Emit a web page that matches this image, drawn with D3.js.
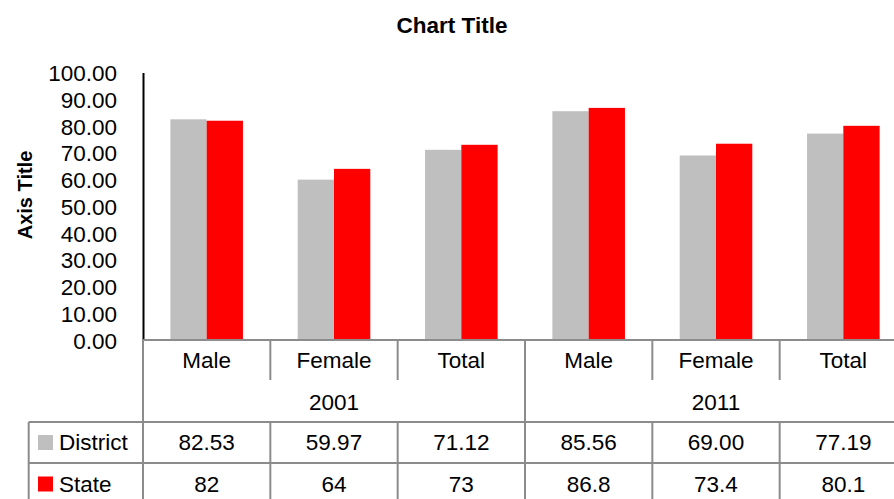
<!DOCTYPE html>
<html lang="en">
<head>
  <meta charset="UTF-8" />
  <title>Chart Title</title>
  <script src="https://d3js.org/d3.v7.min.js"></script>
  <style>
    body {
      margin: 0;
      background: #fff;
    }
    svg text {
      fill: #000;
      font-family: "Liberation Sans", Arial, sans-serif;
    }
  </style>
</head>
<body>
  <div id="chart"></div>

  <script>
    // data
    const categories = ["Male", "Female", "Total", "Male", "Female", "Total"];
    const years = ["2001", "2011"];
    const seriesNames = ["District", "State"];
    const district = [82.53, 59.97, 71.12, 85.56, 69.00, 77.19];
    const state = [82, 64, 73, 86.8, 73.4, 80.1];
    const yTicks = [0, 10, 20, 30, 40, 50, 60, 70, 80, 90, 100];

    const colors = ["#bfbfbf", "#ff0000"];
    const gridColor = "#8c8c8c";
    const W = 894, H = 499;
    const fontSize = 22.5;

    const plotLeft = 143, plotRight = 907,
          plotTop = 72.6, plotBottom = 340;
    const rowCat = 380, rowYear = 422, rowDistrict = 463, rowState = 504;
    const tableLeft = 28.7;

    const svg = d3.select("#chart")
      .append("svg")
      .attr("width", W)
      .attr("height", H);

    const keys = categories.map((c, i) => i);

    const x = d3.scaleBand()
      .domain(keys)
      .range([plotLeft, plotRight])
      .paddingInner(0.43)
      .paddingOuter(0.215);

    const xs = d3.scaleBand()
      .domain([0, 1])
      .range([0, x.bandwidth()]);

    const y = d3.scaleLinear()
      .domain([0, 100])
      .range([plotBottom, plotTop]);

    // bars
    const series = [district, state];
    series.forEach((vals, s) => {
      svg.append("g")
        .selectAll("rect")
        .data(vals)
        .join("rect")
        .attr("x", (d, i) => x(i) + xs(s))
        .attr("y", d => y(d))
        .attr("width", xs.bandwidth())
        .attr("height", d => y(0) - y(d))
        .attr("fill", colors[s]);
    });

    // y axis
    const yAxis = svg.append("g")
      .attr("transform", `translate(${plotLeft},0)`)
      .call(d3.axisLeft(y).tickValues(yTicks).tickFormat(d3.format(".2f")).tickSize(0).tickPadding(26));
    yAxis.select(".domain").attr("stroke", "#000").attr("stroke-width", 2);
    yAxis.selectAll("text")
      .attr("font-family", null)
      .attr("font-size", fontSize)
      .attr("dy", "0.36em");

    // data table
    const step = x.step();
    const colX = i => plotLeft + i * step;
    const grid = svg.append("g")
      .attr("stroke", gridColor)
      .attr("stroke-width", 2)
      .attr("fill", "none");

    // horizontal lines
    grid.append("line")
      .attr("x1", plotLeft).attr("x2", plotRight)
      .attr("y1", plotBottom).attr("y2", plotBottom);
    [rowYear, rowDistrict].forEach(yy => {
      grid.append("line")
        .attr("x1", tableLeft).attr("x2", plotRight)
        .attr("y1", yy).attr("y2", yy);
    });

    // vertical lines
    grid.append("line")
      .attr("x1", plotLeft).attr("x2", plotLeft)
      .attr("y1", plotBottom).attr("y2", rowState);
    grid.append("line")
      .attr("x1", tableLeft).attr("x2", tableLeft)
      .attr("y1", rowYear).attr("y2", rowState);
    keys.slice(1).forEach(i => {
      const yearEdge = i % 3 === 0;
      grid.append("line")
        .attr("x1", colX(i)).attr("x2", colX(i))
        .attr("y1", plotBottom)
        .attr("y2", yearEdge ? rowState : rowCat);
      if (!yearEdge) {
        grid.append("line")
          .attr("x1", colX(i)).attr("x2", colX(i))
          .attr("y1", rowYear).attr("y2", rowState);
      }
    });

    const textStyle = sel => sel
      .attr("font-size", fontSize)
      .attr("text-anchor", "middle");

    // category labels
    svg.append("g").selectAll("text")
      .data(categories)
      .join("text")
      .call(textStyle)
      .attr("x", (d, i) => colX(i) + step / 2)
      .attr("y", 368)
      .text(d => d);

    // year labels
    svg.append("g").selectAll("text")
      .data(years)
      .join("text")
      .call(textStyle)
      .attr("x", (d, i) => colX(i * 3) + step * 1.5)
      .attr("y", 410)
      .text(d => d);

    // value rows
    const rowBase = [450, 491.5];
    const fmt = [d3.format(".2f"), d => String(d)];
    series.forEach((vals, s) => {
      svg.append("g").selectAll("text")
        .data(vals)
        .join("text")
        .call(textStyle)
        .attr("x", (d, i) => colX(i) + step / 2)
        .attr("y", rowBase[s])
        .text(d => fmt[s](d));

      // legend key
      svg.append("rect")
        .attr("x", 38)
        .attr("y", rowBase[s] - 15)
        .attr("width", 15)
        .attr("height", 15)
        .attr("fill", colors[s]);
      svg.append("text")
        .attr("font-size", fontSize)
        .attr("x", 59)
        .attr("y", rowBase[s])
        .text(seriesNames[s]);
    });

    // titles
    svg.append("text")
      .attr("x", 452)
      .attr("y", 33)
      .attr("text-anchor", "middle")
      .attr("font-weight", "bold")
      .attr("font-size", 22.5)
      .text("Chart Title");

    svg.append("text")
      .attr("transform", "translate(31.5,195) rotate(-90)")
      .attr("text-anchor", "middle")
      .attr("font-weight", "bold")
      .attr("font-size", 20)
      .text("Axis Title");
  </script>
</body>
</html>
